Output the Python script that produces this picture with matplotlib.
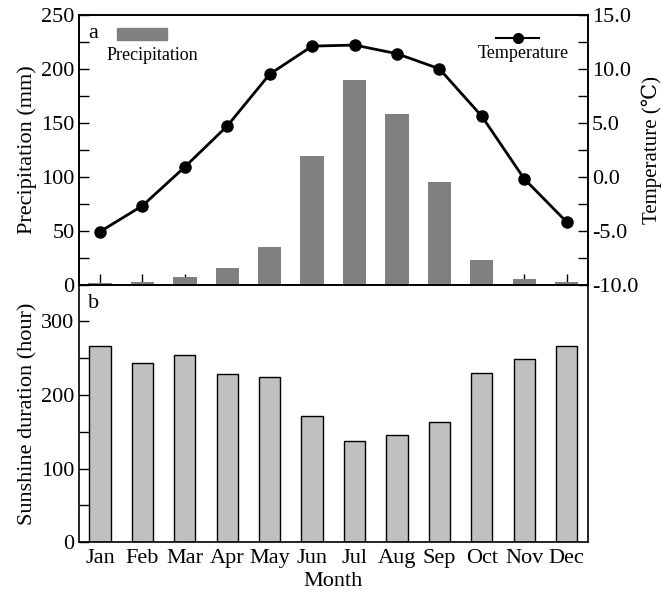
import numpy as np
import matplotlib
matplotlib.use('Agg')
import matplotlib.pyplot as plt
from matplotlib.ticker import MultipleLocator, FormatStrFormatter
from matplotlib.patches import Rectangle
from matplotlib.lines import Line2D

plt.rcParams['font.family'] = ['Liberation Serif', 'DejaVu Serif']
plt.rcParams['axes.unicode_minus'] = False

# data
months = ['Jan', 'Feb', 'Mar', 'Apr', 'May', 'Jun', 'Jul', 'Aug', 'Sep', 'Oct', 'Nov', 'Dec']
precip = [1.5, 2.5, 7, 15, 34.5, 119, 190, 158, 95.5, 23, 5, 2]
temp = [-5.1, -2.7, 0.9, 4.7, 9.5, 12.1, 12.2, 11.4, 10.0, 5.6, -0.2, -4.2]
sunshine = [267, 244, 254, 229, 224, 171, 138, 146, 163, 230, 249, 266]

x = np.arange(1, len(months) + 1)

fig = plt.figure(figsize=(6.62, 5.94), dpi=100)
ax1 = fig.add_axes([0.119, 0.521, 0.769, 0.454])
ax2 = fig.add_axes([0.119, 0.087, 0.769, 0.434])
ax1r = ax1.twinx()

fs = 16

# panel a: precipitation bars + temperature line
ax1.bar(x, precip, width=0.55, color='#808080', zorder=2)
ax1.set_xlim(0.5, 12.5)
ax1.set_ylim(0, 250)
ax1.yaxis.set_major_locator(MultipleLocator(50))
ax1.yaxis.set_minor_locator(MultipleLocator(25))
ax1.set_xticks(x)
ax1.set_xticklabels([])
ax1.tick_params(axis='x', direction='in', length=8, width=1, top=False)
ax1.tick_params(axis='y', which='both', direction='in', length=7, width=1, labelsize=fs, right=False, pad=3)
ax1.set_ylabel('Precipitation (mm)', fontsize=fs, labelpad=3)

ax1r.plot(x, temp, color='black', lw=2, marker='o', markersize=8, zorder=3)
ax1r.set_ylim(-10, 15)
ax1r.yaxis.set_major_locator(MultipleLocator(5))
ax1r.yaxis.set_minor_locator(MultipleLocator(2.5))
ax1r.yaxis.set_major_formatter(FormatStrFormatter('%.1f'))
ax1r.tick_params(axis='y', which='both', direction='in', length=7, width=1, labelsize=fs, pad=3)
ax1r.set_ylabel('Temperature (\u2103)', fontsize=15, labelpad=2)

for a in (ax1, ax1r, ax2):
    for s in a.spines.values():
        s.set_linewidth(1.2)

# hand-drawn legend, text under the symbol
ax1.text(0.018, 0.965, 'a', transform=ax1.transAxes, fontsize=fs, va='top', ha='left')
ax1.add_patch(Rectangle((0.075, 0.905), 0.098, 0.045, transform=ax1.transAxes,
                        color='#808080', clip_on=False))
ax1.text(0.145, 0.85, 'Precipitation', transform=ax1.transAxes, fontsize=13, ha='center', va='center')
ax1.add_line(Line2D([0.82, 0.905], [0.915, 0.915], transform=ax1.transAxes, color='black', lw=1.5))
ax1.add_line(Line2D([0.8625], [0.915], transform=ax1.transAxes, color='black',
                    marker='o', markersize=7))
ax1.text(0.874, 0.855, 'Temperature', transform=ax1.transAxes, fontsize=13, ha='center', va='center')

# panel b: sunshine duration
ax2.bar(x, sunshine, width=0.5, color='#c0c0c0', edgecolor='black', linewidth=1, zorder=2)
ax2.set_xlim(0.5, 12.5)
ax2.set_ylim(0, 350)
ax2.yaxis.set_major_locator(MultipleLocator(100))
ax2.yaxis.set_minor_locator(MultipleLocator(50))
ax2.set_xticks(x)
ax2.set_xticklabels(months)
ax2.tick_params(axis='x', direction='in', length=8, width=1, labelsize=fs, pad=5)
ax2.tick_params(axis='y', which='both', direction='in', length=7, width=1, labelsize=fs, pad=3)
ax2.set_ylabel('Sunshine duration (hour)', fontsize=fs, labelpad=3)
ax2.set_xlabel('Month', fontsize=fs, labelpad=3)
ax2.text(0.018, 0.965, 'b', transform=ax2.transAxes, fontsize=fs, va='top', ha='left')

fig.savefig('out.png', dpi=100)
